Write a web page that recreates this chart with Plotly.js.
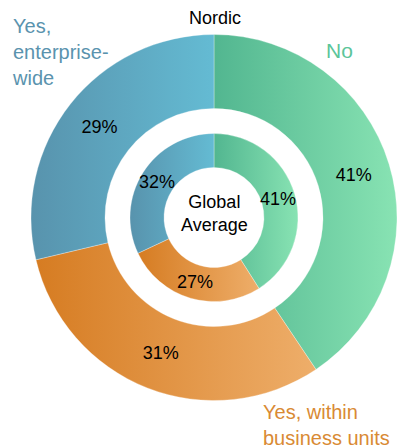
<!DOCTYPE html>
<html>
<head>
<meta charset="utf-8">
<script src="https://cdn.plot.ly/plotly-3.0.1.min.js"></script>
<style>html,body{margin:0;padding:0;background:#fff;}#chart{width:398px;height:448px;}</style>
</head>
<body>
<div id="chart"></div>
<script>
// Data
const categories = ["No", "Yes, within business units", "Yes, enterprise-wide"];
const categoryLabels = ["No", "Yes, within<br>business units", "Yes,<br>enterprise-<br>wide"];
const nordicValues = [41, 31, 29];
const globalValues = [41, 27, 32];
const outerTitle = "Nordic";
const innerTitle = "Global<br>Average";

// Styles
const gradStops = [
  ["#52b690", "#88e3b3"],   // No
  ["#d67c22", "#eeae6a"],   // within BU
  ["#5893ad", "#64bbd3"]    // enterprise-wide
];
const labelColors = ["#5cc59a", "#d98a34", "#5a93ae"];
const midColors = ["#6ccba0", "#e29646", "#5ca5c0"];
const FONT = "Liberation Sans, Arial, sans-serif";

const W = 398, H = 448;
function dom(cx, cy, r) {
  return {x: [(cx - r) / W, (cx + r) / W], y: [1 - (cy + r) / H, 1 - (cy - r) / H]};
}
const cx = 214, cy = 217.5;
const R_OUT = 183, H_OUT = 109, R_IN = 84, H_IN = 50;

const common = {
  type: "pie",
  labels: categories,
  sort: false,
  direction: "clockwise",
  rotation: 0,
  textinfo: "text",
  texttemplate: "%{value}%",
  textposition: "inside",
  insidetextorientation: "horizontal",
  textfont: {family: FONT, size: 18, color: "#000"},
  showlegend: false,
  hoverinfo: "label+value",
  marker: {colors: midColors, line: {color: "rgba(255,255,255,0.6)", width: 0.5}}
};

const outer = Object.assign({}, common, {
  values: nordicValues,
  hole: H_OUT / R_OUT,
  domain: dom(cx, cy, R_OUT),
  name: outerTitle
});
const inner = Object.assign({}, common, {
  values: globalValues,
  hole: H_IN / R_IN,
  domain: dom(cx, cy, R_IN),
  name: "Global Average",
  textposition: "none"
});

const annotations = [
  {text: outerTitle, x: 215 / W, y: 1 - 18 / H, font: {family: FONT, size: 18, color: "#000"}, xanchor: "center", yanchor: "middle"},
  {text: innerTitle, x: cx / W, y: 1 - 213 / H, font: {family: FONT, size: 18, color: "#000"}, xanchor: "center", yanchor: "middle", align: "center"},
  {text: categoryLabels[0], x: 324 / W, y: 1 - 51 / H, font: {family: FONT, size: 21, color: labelColors[0]}, xanchor: "left", yanchor: "middle", align: "left"},
  {text: categoryLabels[1], x: 261 / W, y: 1 - 425 / H, font: {family: FONT, size: 20, color: labelColors[1]}, xanchor: "left", yanchor: "middle", align: "left"},
  {text: categoryLabels[2], x: 10 / W, y: 1 - 52 / H, font: {family: FONT, size: 20, color: labelColors[2]}, xanchor: "left", yanchor: "middle", align: "left"}
];

// Inner ring percentage labels, placed at each slice's mid-angle (from the data)
(function () {
  const total = globalValues.reduce((a, b) => a + b, 0);
  const rMid = (R_IN + H_IN) / 2;
  let acc = 0;
  globalValues.forEach(v => {
    const mid = (acc + v / 2) / total * 2 * Math.PI;
    acc += v;
    const px = cx + rMid * Math.sin(mid);
    const py = cy - rMid * Math.cos(mid);
    annotations.push({text: v + "%", x: px / W, y: 1 - py / H, xanchor: "center", yanchor: "middle",
      font: {family: FONT, size: 18, color: "#000"}});
  });
})();
annotations.forEach(a => { a.xref = "paper"; a.yref = "paper"; a.showarrow = false; });

const layout = {
  width: W, height: H,
  margin: {l: 0, r: 0, t: 0, b: 0},
  paper_bgcolor: "#fff",
  plot_bgcolor: "#fff",
  font: {family: FONT},
  annotations: annotations
};

function applyGradients(gd) {
  const svg = gd.querySelector(".main-svg");
  if (!svg) return;
  let defs = svg.querySelector("defs");
  if (!defs) { defs = document.createElementNS("http://www.w3.org/2000/svg", "defs"); svg.insertBefore(defs, svg.firstChild); }
  gradStops.forEach((st, i) => {
    const id = "sliceGrad" + i;
    if (defs.querySelector("#" + id)) return;
    const lg = document.createElementNS("http://www.w3.org/2000/svg", "linearGradient");
    lg.setAttribute("id", id);
    lg.setAttribute("x1", "0"); lg.setAttribute("y1", "0");
    lg.setAttribute("x2", "1"); lg.setAttribute("y2", "0");
    [[0, st[0]], [1, st[1]]].forEach(([o, c]) => {
      const s = document.createElementNS("http://www.w3.org/2000/svg", "stop");
      s.setAttribute("offset", o);
      s.setAttribute("stop-color", c);
      lg.appendChild(s);
    });
    defs.appendChild(lg);
  });
  gd.querySelectorAll("g.trace").forEach(tr => {
    tr.querySelectorAll("g.slice").forEach((sl, i) => {
      const p = sl.querySelector("path.surface");
      if (p) p.style.fill = "url(#sliceGrad" + (i % gradStops.length) + ")";
    });
  });
}

Plotly.newPlot("chart", [outer, inner], layout, {displayModeBar: false, staticPlot: true}).then(gd => {
  applyGradients(gd);
});
</script>
</body>
</html>
